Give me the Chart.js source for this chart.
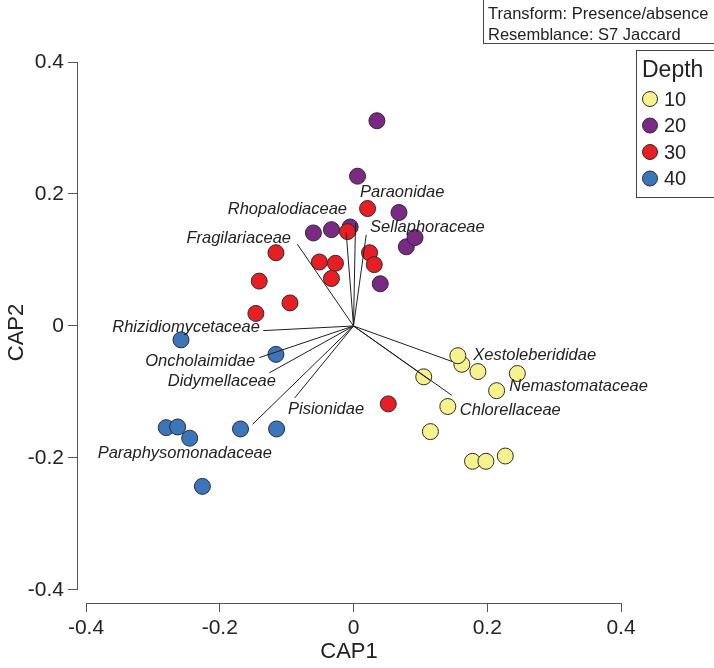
<!DOCTYPE html>
<html>
<head>
<meta charset="utf-8">
<title>CAP ordination</title>
<script src="https://cdn.jsdelivr.net/npm/chart.js@4"></script>
<style>
  html, body { margin: 0; padding: 0; background: #fff; }
  #wrap { width: 714px; height: 668px; position: relative; }
</style>
</head>
<body>
<div id="wrap"><canvas id="capChart" width="714" height="668"></canvas></div>
<script>
// ============================================
// Data — CAP1 / CAP2 scores by depth
// ============================================
const depthLabels = ['10', '20', '30', '40'];

const cap1_10 = [0.162, 0.156, 0.186, 0.245, 0.214, 0.105, 0.141, 0.115, 0.178, 0.198, 0.227];
const cap2_10 = [-0.058, -0.045, -0.069, -0.072, -0.098, -0.077, -0.122, -0.160, -0.205, -0.205, -0.197];

const cap1_20 = [0.035, 0.006, 0.068, 0.079, 0.092, 0.040, -0.060, -0.033, -0.005];
const cap2_20 = [0.311, 0.227, 0.172, 0.120, 0.134, 0.064, 0.141, 0.146, 0.150];

const cap1_30 = [0.021, -0.009, 0.024, 0.031, -0.051, -0.027, -0.033, -0.116, -0.141, -0.095, -0.146, 0.052];
const cap2_30 = [0.178, 0.143, 0.111, 0.093, 0.097, 0.095, 0.072, 0.111, 0.068, 0.035, 0.019, -0.118];

const cap1_40 = [-0.258, -0.116, -0.280, -0.263, -0.245, -0.169, -0.115, -0.226];
const cap2_40 = [-0.021, -0.043, -0.154, -0.153, -0.170, -0.156, -0.156, -0.243];

// vector overlay (taxa)
const vecNames = ['Rhopalodiaceae', 'Paraonidae', 'Sellaphoraceae', 'Fragilariaceae',
  'Rhizidiomycetaceae', 'Oncholaimidae', 'Didymellaceae', 'Paraphysomonadaceae',
  'Pisionidae', 'Xestoleberididae', 'Nemastomataceae', 'Chlorellaceae'];
const vecX = [-0.011, 0.003, 0.019, -0.084, -0.135, -0.141, -0.126, -0.151, -0.088, 0.148, 0.114, 0.147];
const vecY = [0.142, 0.156, 0.138, 0.124, -0.007, -0.048, -0.071, -0.149, -0.109, -0.054, -0.082, -0.105];

const axisTicks = [-0.4, -0.2, 0, 0.2, 0.4];
const infoLines = ['Transform: Presence/absence', 'Resemblance: S7 Jaccard'];

// ============================================
// Styles
// ============================================
const FONT = '"Liberation Sans", Arial, sans-serif';
const TEXT = '#222';
const AXIS = '#555';
const depthColors = ['#f6f28e', '#7a2a85', '#e81e25', '#3b76bd'];

// where each taxon label sits (data units) and how it is aligned
const vecLabelPos = [
  [-0.0097, 0.176, 'right'], [0.0097, 0.203, 'left'], [0.0247, 0.150, 'left'],
  [-0.0935, 0.132, 'right'], [-0.140, -0.0015, 'right'], [-0.147, -0.053, 'right'],
  [-0.116, -0.084, 'right'], [-0.122, -0.193, 'right'], [-0.098, -0.127, 'left'],
  [0.179, -0.044, 'left'], [0.233, -0.092, 'left'], [0.159, -0.128, 'left'],
];

const toPts = (xs, ys) => xs.map((x, i) => ({ x, y: ys[i] }));
const fmtTick = v => (v === 0 ? '0' : v.toFixed(1));

// ============================================
// Datasets
// ============================================
const depthSeries = [[cap1_10, cap2_10], [cap1_20, cap2_20], [cap1_30, cap2_30], [cap1_40, cap2_40]];

const datasets = depthSeries.map(([xs, ys], i) => ({
  type: 'scatter',
  label: depthLabels[i],
  data: toPts(xs, ys),
  backgroundColor: depthColors[i],
  borderColor: '#2b2b2b',
  borderWidth: 1,
  pointRadius: 8,
  pointHoverRadius: 8,
  order: 4 - i,
}));

vecNames.forEach((name, i) => {
  datasets.push({
    type: 'line',
    label: name,
    data: [{ x: 0, y: 0 }, { x: vecX[i], y: vecY[i] }],
    borderColor: '#1e1e1e',
    borderWidth: 1,
    pointRadius: 0,
    fill: false,
    order: 0,
  });
});

// ============================================
// Plugin — axis lines, taxon labels, info box, legend
// ============================================
const decorPlugin = {
  id: 'decor',
  afterDraw(chart) {
    const { ctx, chartArea, scales: { x, y } } = chart;
    ctx.save();

    // separated L-shaped axes
    ctx.strokeStyle = AXIS;
    ctx.lineWidth = 1;
    ctx.beginPath();
    const ax = Math.round(chartArea.left) + 0.5;
    ctx.moveTo(ax, y.getPixelForValue(0.4));
    ctx.lineTo(ax, y.getPixelForValue(-0.4));
    const ay = Math.round(chartArea.bottom) + 0.5;
    ctx.moveTo(x.getPixelForValue(-0.4), ay);
    ctx.lineTo(x.getPixelForValue(0.4), ay);
    ctx.stroke();

    // taxon labels
    ctx.fillStyle = TEXT;
    ctx.font = 'italic 16.5px ' + FONT;
    ctx.textBaseline = 'middle';
    vecNames.forEach((name, i) => {
      const [lx, ly, align] = vecLabelPos[i];
      ctx.textAlign = align;
      ctx.fillText(name, x.getPixelForValue(lx), y.getPixelForValue(ly));
    });

    // info box
    ctx.textAlign = 'left';
    ctx.font = '16.5px ' + FONT;
    ctx.strokeStyle = '#444';
    ctx.strokeRect(483.5, -1.5, 240, 45);
    infoLines.forEach((t, i) => ctx.fillText(t, 488, 14 + i * 21));

    // legend
    ctx.strokeRect(636.5, 50.5, 90, 147);
    ctx.font = '23px ' + FONT;
    ctx.fillText('Depth', 642, 71);
    ctx.font = '20px ' + FONT;
    depthLabels.forEach((lab, i) => {
      const cy = 99 + i * 26.5;
      ctx.beginPath();
      ctx.arc(650, cy, 7.5, 0, Math.PI * 2);
      ctx.fillStyle = depthColors[i];
      ctx.fill();
      ctx.strokeStyle = '#2b2b2b';
      ctx.stroke();
      ctx.fillStyle = TEXT;
      ctx.fillText(lab, 664, cy + 1);
    });

    ctx.restore();
  },
};

// ============================================
// Chart
// ============================================
const tickFont = { family: FONT, size: 21 };
const titleFont = { family: FONT, size: 22 };

new Chart(document.getElementById('capChart'), {
  data: { datasets },
  options: {
    responsive: false,
    animation: false,
    layout: { padding: { top: 62, right: 93, left: 0, bottom: 0 } },
    plugins: {
      legend: { display: false },
      tooltip: { enabled: false },
    },
    scales: {
      x: {
        type: 'linear',
        min: -0.4135,
        max: 0.4,
        afterBuildTicks: s => { s.ticks = axisTicks.map(v => ({ value: v })); },
        afterFit: s => { s.height = 65; },
        border: { display: false },
        grid: { drawOnChartArea: false, drawTicks: true, tickLength: 9, color: AXIS },
        ticks: { callback: fmtTick, font: tickFont, color: TEXT, padding: 4, maxRotation: 0 },
        title: { display: true, text: 'CAP1', font: titleFont, color: TEXT, padding: { top: 0, bottom: 3 } },
      },
      y: {
        type: 'linear',
        min: -0.4197,
        max: 0.4,
        afterBuildTicks: s => { s.ticks = axisTicks.map(v => ({ value: v })); },
        afterFit: s => { s.width = 77; },
        border: { display: false },
        grid: { drawOnChartArea: false, drawTicks: true, tickLength: 9, color: AXIS },
        ticks: { callback: fmtTick, font: tickFont, color: TEXT, padding: 4 },
        title: { display: true, text: 'CAP2', font: titleFont, color: TEXT, padding: { top: 4, bottom: 2 } },
      },
    },
  },
  plugins: [decorPlugin],
});
</script>
</body>
</html>
